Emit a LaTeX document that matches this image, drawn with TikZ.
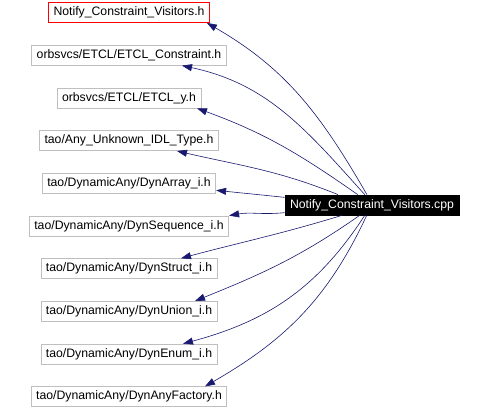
\documentclass[tikz,border=0pt]{standalone}
\usepackage{fontspec}
\setmainfont{Liberation Sans}
\usetikzlibrary{shapes.geometric, arrows.meta, positioning}
\definecolor{edgeblue}{HTML}{191970}
\definecolor{boxgray}{HTML}{BFBFBF}
\tikzstyle{std} = [rectangle, minimum height=20bp, inner xsep=5bp, inner ysep=0pt, text centered, draw=boxgray, line width=0.8bp, font=\fontsize{12.3}{14}\selectfont]
\tikzstyle{hilite} = [std, draw=red]
\tikzstyle{current} = [std, draw=black, fill=black, text=white]
\tikzstyle{arrow} = [edgeblue, line width=0.6bp, -{Triangle[length=10bp,width=7bp]}]

\begin{document}
\begin{tikzpicture}[node distance=42.7bp]
      \useasboundingbox (0,0) rectangle (486bp,-409bp);

      \node (visitors_h) [hilite] at (129bp,-12.5bp) {Notify\_Constraint\_Visitors.h};
      \node (etcl_constraint) [std, below of=visitors_h] {orbsvcs/ETCL/ETCL\_Constraint.h};
      \node (etcl_y) [std, below of=etcl_constraint] {orbsvcs/ETCL/ETCL\_y.h};
      \node (any_unknown) [std, below of=etcl_y] {tao/Any\_Unknown\_IDL\_Type.h};
      \node (dyn_array) [std, below of=any_unknown] {tao/DynamicAny/DynArray\_i.h};
      \node (dyn_sequence) [std, below of=dyn_array] {tao/DynamicAny/DynSequence\_i.h};
      \node (dyn_struct) [std, below of=dyn_sequence] {tao/DynamicAny/DynStruct\_i.h};
      \node (dyn_union) [std, below of=dyn_struct] {tao/DynamicAny/DynUnion\_i.h};
      \node (dyn_enum) [std, below of=dyn_union] {tao/DynamicAny/DynEnum\_i.h};
      \node (dyn_factory) [std, below of=dyn_enum] {tao/DynamicAny/DynAnyFactory.h};

      \node (visitors_cpp) [current] at (372bp,-205bp) {Notify\_Constraint\_Visitors.cpp};

      \draw [arrow] (visitors_cpp.116) to[out=120, in=-30] ([xshift=-3bp]visitors_h.south east);
      \draw [arrow] (visitors_cpp.125) to[out=132, in=-12] ([xshift=53bp]etcl_constraint.south);
      \draw [arrow] (visitors_cpp.144) to[out=145, in=-20] ([xshift=68bp]etcl_y.south);
      \draw [arrow] (visitors_cpp.163) to[out=158, in=-13] ([xshift=48bp]any_unknown.south);
      \draw [arrow] (visitors_cpp.175) to[out=174, in=-6] ([yshift=-7bp]dyn_array.east);
      \draw [arrow] (visitors_cpp.185) to[out=186, in=10] (dyn_sequence.north east);
      \draw [arrow] (visitors_cpp.199) to[out=197, in=15] ([xshift=52bp]dyn_struct.north);
      \draw [arrow] (visitors_cpp.220) to[out=215, in=22] ([xshift=66bp]dyn_union.north);
      \draw [arrow] (visitors_cpp.235) to[out=237, in=15] ([xshift=54bp]dyn_enum.north);
      \draw [arrow] (visitors_cpp.243) to[out=245, in=30] ([xshift=76bp]dyn_factory.north);
    \end{tikzpicture}
\end{document}
